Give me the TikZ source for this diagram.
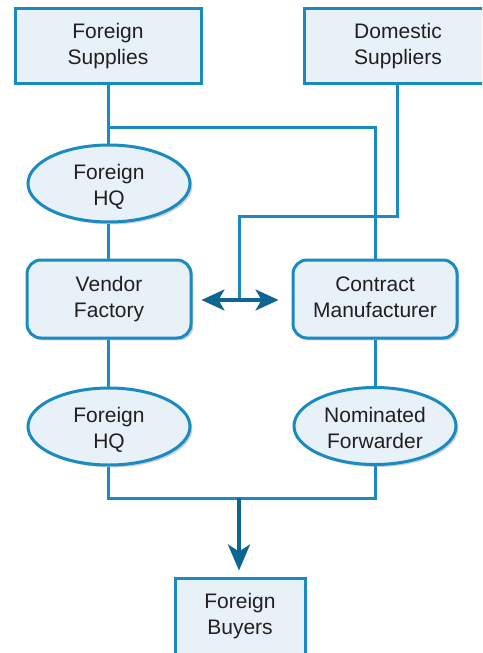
\documentclass[tikz,border=0pt]{standalone}
\usepackage{fontspec}
\setmainfont{Liberation Sans}
\usetikzlibrary{arrows.meta,shapes.geometric,shadows}

\definecolor{linkblue}{HTML}{1A8AC2}
\definecolor{arrowblue}{HTML}{0D6592}
\definecolor{boxfill}{HTML}{E8F0F8}
\definecolor{inktext}{HTML}{231F20}

\tikzset{
  every node/.style={font=\fontsize{10.5pt}{13pt}\selectfont, text=inktext, align=center},
  shade/.style={drop shadow={shadow xshift=1.2pt, shadow yshift=-1.2pt, opacity=0.18, fill=black}},
  squarebox/.style={rectangle, draw=linkblue, fill=boxfill, line width=1.5pt,
    minimum width=93pt, minimum height=37.5pt, inner sep=0pt, text height=21pt, text depth=2.4pt, shade},
  roundbox/.style={rectangle, rounded corners=7pt, draw=linkblue, fill=boxfill, line width=1.5pt,
    minimum width=82pt, minimum height=39pt, inner sep=0pt, text height=21pt, text depth=2.4pt, shade},
  oval/.style={ellipse, draw=linkblue, fill=boxfill, line width=1.5pt,
    minimum width=81pt, minimum height=38.5pt, inner sep=0pt, text height=23pt, text depth=1pt, shade},
  link/.style={draw=linkblue, line width=1.5pt},
  flowarrow/.style={draw=arrowblue, line width=1.6pt,
    arrows={Stealth[length=11.5pt, width=10.5pt, inset=3pt]-Stealth[length=11.5pt, width=10.5pt, inset=3pt]}},
  downarrow/.style={draw=arrowblue, line width=2pt,
    -{Stealth[length=13pt, width=11pt, inset=3.5pt]}},
}

\begin{document}
\begin{tikzpicture}[x=0.5pt, y=-0.5pt]
  \useasboundingbox (0,0) rectangle (482,653);
  \begin{scope}
  \clip (0,0) rectangle (482,653);

  % suppliers
  \node[squarebox] (fs) at (108,45.5) {Foreign\\Supplies};
  \node[squarebox, minimum width=94pt] (ds) at (398,45.5) {Domestic\\Suppliers};

  % first tier
  \node[oval] (hq1) at (109,183.5) {Foreign\\HQ};
  \node[roundbox] (vf) at (109,299) {Vendor\\Factory};
  \node[roundbox] (cm) at (375,299) {Contract\\Manufacturer};

  % second tier
  \node[oval] (hq2) at (109,426.5) {Foreign\\HQ};
  \node[oval] (nf) at (375,426) {Nominated\\Forwarder};

  % buyers (box runs past the lower edge)
  \node[squarebox, minimum width=65pt, minimum height=42pt, text depth=7pt] (fb) at (240,620) {Foreign\\Buyers};

  % junctions
  \coordinate (split) at (108,127);
  \coordinate (turn) at (239,216);
  \coordinate (meet) at (239,300);
  \coordinate (merge) at (239,498);

  % connectors
  \draw[link] (fs.south -| 108,0) -- (hq1.north -| 108,0);
  \draw[link] (split) -| (cm.north);
  \draw[link] (ds.south -| 397,0) |- (turn) -- (meet);
  \draw[link] (hq1.south -| 108,0) -- (vf.north -| 108,0);
  \draw[link] (vf.south -| 108,0) -- (hq2.north -| 108,0);
  \draw[link] (cm) -- (nf);
  \draw[link] (hq2.south -| 108,0) |- (merge) -| (nf.south);

  \draw[flowarrow, shorten <=4.5pt, shorten >=6.5pt] (vf.east |- meet) -- (cm.west |- meet);
  \draw[downarrow, shorten >=3pt] (merge) -- (fb.north -| merge);
  \end{scope}
\end{tikzpicture}
\end{document}
